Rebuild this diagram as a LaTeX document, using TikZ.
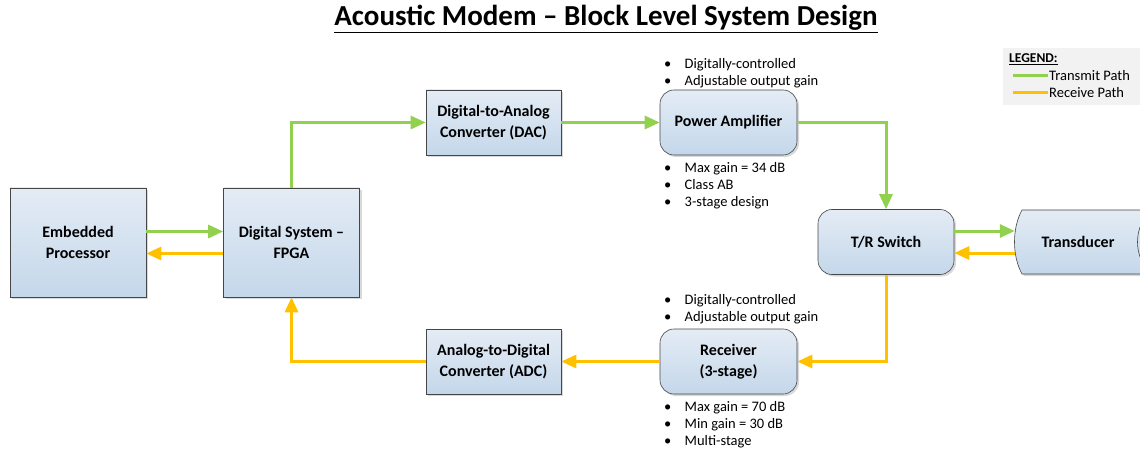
\documentclass[tikz,border=0pt]{standalone}
\usepackage{fontspec}
\setmainfont{Carlito}
\usetikzlibrary{arrows.meta,shadows}
\definecolor{txgreen}{RGB}{146,208,80}
\definecolor{rxorange}{RGB}{255,192,0}
\definecolor{boxtop}{RGB}{228,236,245}
\definecolor{boxbot}{RGB}{196,215,234}
\definecolor{boxline}{RGB}{70,70,70}
\newcommand{\bl}[1]{\makebox[20.5pt][l]{\textbullet}#1}

\begin{document}
\begin{tikzpicture}[x=1pt,y=-1pt,
  blk/.style={draw=boxline, line width=0.6pt, top color=boxtop, bottom color=boxbot,
    drop shadow={shadow xshift=2pt, shadow yshift=-2pt, opacity=0.3},
    align=center, font=\bfseries\fontsize{16}{21}\selectfont},
  bigblk/.style={blk, minimum width=136pt, minimum height=109pt},
  smallblk/.style={blk, minimum width=135pt, minimum height=65pt},
  roundblk/.style={smallblk, rounded corners=14pt, minimum width=137pt},
  note/.style={anchor=north west, inner sep=0pt, align=left, font=\fontsize{14.5}{17}\selectfont},
  tx/.style={draw=txgreen, line width=3pt, -{Triangle[length=15pt,width=13pt]}},
  rx/.style={draw=rxorange, line width=3pt, -{Triangle[length=15pt,width=13pt]}}]
  \useasboundingbox (0,0) rectangle (1140,449);

  % title
  \node (title) at (606,19) {\bfseries\fontsize{29}{34}\selectfont\underline{Acoustic Modem -- Block Level System Design}};

  % blocks
  \node[bigblk] (emb) at (78,242.5) {Embedded\\Processor};
  \node[bigblk] (fpga) at (291.5,242.5) {Digital System --\\FPGA};
  \node[smallblk] (dac) at (493.5,122.5) {Digital-to-Analog\\Converter (DAC)};
  \node[smallblk] (adc) at (493.5,361.5) {Analog-to-Digital\\Converter (ADC)};
  \node[roundblk] (pa) at (728.5,122.5) {Power Amplifier};
  \node[roundblk] (rcv) at (728.5,361.5) {Receiver\\(3-stage)};
  \node[roundblk, minimum width=136pt] (trs) at (886,242) {T/R Switch};

  % transducer (cut off at the right edge)
  \begin{scope}
    \clip (0,0) rectangle (1140,449);
    \path[draw=boxline, line width=0.6pt, top color=boxtop, bottom color=boxbot,
      drop shadow={shadow xshift=2pt, shadow yshift=-2pt, opacity=0.3}]
      (1022,210) -- (1160,210) -- (1160,274) -- (1022,274)
      .. controls (1012,256) and (1012,228) .. (1022,210) -- cycle;
    \draw[boxline, line width=0.6pt] (1148,213) .. controls (1134,230) and (1134,254) .. (1148,271);
  \end{scope}
  \node[minimum width=126pt, minimum height=64pt, inner sep=0pt,
    font=\bfseries\fontsize{16}{21}\selectfont] (tdc) at (1078,242) {Transducer};

  % notes
  \node[note] (panote1) at (664,58) {\bl{Digitally-controlled}\\\bl{Adjustable output gain}};
  \node[note] (panote2) at (664,162) {\bl{Max gain = 34 dB}\\\bl{Class AB}\\\bl{3-stage design}};
  \node[note] (rxnote1) at (664,294) {\bl{Digitally-controlled}\\\bl{Adjustable output gain}};
  \node[note] (rxnote2) at (664,401) {\bl{Max gain = 70 dB}\\\bl{Min gain = 30 dB}\\\bl{Multi-stage}};

  % transmit path
  \draw[tx] ([yshift=11pt]emb.east) -- ([yshift=11pt]fpga.west);
  \draw[tx] (fpga.north) |- (dac.west);
  \draw[tx] (dac.east) -- (pa.west);
  \draw[tx] (pa.east) -| (trs.north);
  \draw[tx] ([yshift=11pt]trs.east) -- ([yshift=11pt]tdc.west);

  % receive path
  \draw[rx] ([yshift=-11pt]tdc.west) -- ([yshift=-11pt]trs.east);
  \draw[rx] (trs.south) |- (rcv.east);
  \draw[rx] (rcv.west) -- (adc.east);
  \draw[rx] (adc.west) -| (fpga.south);
  \draw[rx] ([yshift=-11pt]fpga.west) -- ([yshift=-11pt]emb.east);

  % legend
  \fill[gray!10] (1003,48) rectangle (1140,105);
  \node[anchor=west, inner sep=0pt, font=\bfseries\fontsize{13.5}{15}\selectfont] (leg) at (1009,59) {\underline{LEGEND:}};
  \coordinate (lgs) at (1013,76);
  \coordinate (lge) at (1048,76);
  \coordinate (lrs) at (1013,93);
  \coordinate (lre) at (1048,93);
  \draw[txgreen, line width=3pt] (lgs) -- (lge);
  \draw[rxorange, line width=3pt] (lrs) -- (lre);
  \node[anchor=west, inner sep=1pt, font=\fontsize{14.5}{16}\selectfont] (legtx) at (lge) {Transmit Path};
  \node[anchor=west, inner sep=1pt, font=\fontsize{14.5}{16}\selectfont] (legrx) at (lre) {Receive Path};
\end{tikzpicture}
\end{document}
